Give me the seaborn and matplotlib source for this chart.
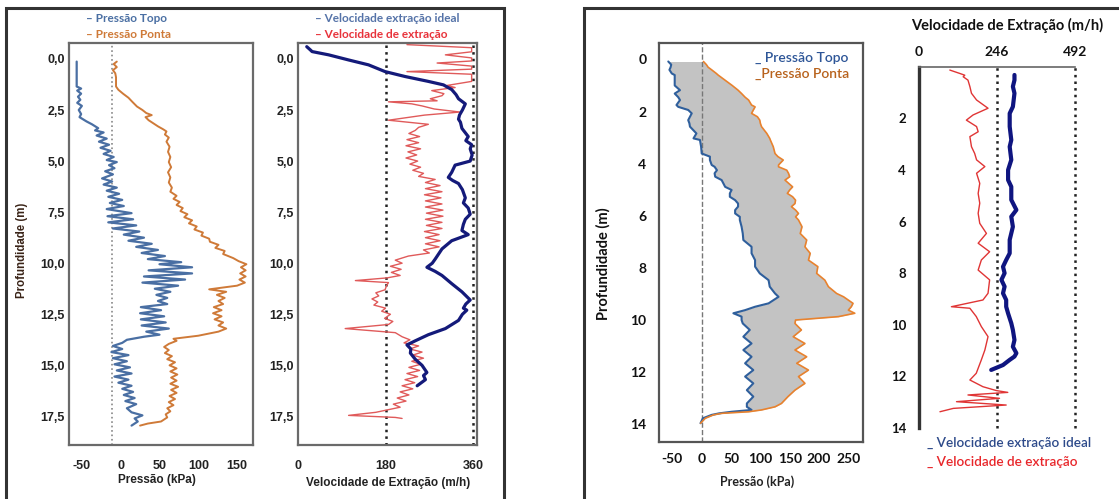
import numpy as np
import pandas as pd
import matplotlib
matplotlib.use("Agg")
import matplotlib.pyplot as plt
import seaborn as sns
from matplotlib.patches import Rectangle

# ---------------- data : left figure (pressure) ----------------
topo1_depth = [0.13, 1.35, 1.45, 1.55, 1.7, 1.85, 2.0, 2.15, 2.3, 2.5,
               2.7, 2.85, 3.06, 3.2, 3.39, 3.5, 3.6, 3.75, 3.9, 4.05,
               4.2, 4.35, 4.5, 4.65, 4.8, 4.95, 5.05, 5.2, 5.35, 5.5,
               5.65, 5.85, 6.0, 6.15, 6.3, 6.45, 6.6, 6.75, 6.9, 7.05,
               7.2, 7.35, 7.55, 7.7, 7.85, 8.0, 8.15, 8.3, 8.45, 8.6,
               8.75, 8.9, 9.05, 9.2, 9.35, 9.5, 9.65, 9.8, 9.95, 10.05,
               10.2, 10.35, 10.5, 10.65, 10.8, 10.95, 11.1, 11.25, 11.4, 11.55,
               11.7, 11.85, 12.0, 12.15, 12.3, 12.45, 12.6, 12.75, 12.9, 13.05,
               13.2, 13.35, 13.5, 13.6, 13.75, 13.9, 14.05, 14.2, 14.35, 14.5,
               14.65, 14.8, 14.95, 15.1, 15.25, 15.4, 15.55, 15.7, 15.85, 16.0,
               16.15, 16.3, 16.45, 16.6, 16.75, 16.9, 17.1, 17.3, 17.45, 17.6,
               17.75, 17.95]
topo1_kpa = [-56.7, -56.7, -51, -56, -51, -55, -52, -56, -50, -54,
             -51, -53, -44, -37, -29, -33, -22, -31, -18, -28,
             -15, -26, -13, -22, -9, -18, -5, -15, -8, -20,
             -10, -24, -11, -22, -5, -18, -2, -16, 2, -14,
             4, -18, 14, -17, 16, -16, 20, -10, 24, 4,
             30, 10, 40, 20, 48, 27, 57, 35, 78, 50,
             92, 36, 92, 30, 83, 28, 74, 44, 64, 46,
             60, 48, 60, 26, 52, 25, 56, 26, 58, 27,
             62, 33, 50, 30, 8, 2, -10, 2, -12, 10,
             -10, 8, -8, 12, -5, 14, -8, 10, -3, 14,
             2, 16, 4, 18, 6, 20, 8, 14, 28, 18,
             22, 14]

ponta1_depth = [0.13, 0.25, 0.4, 0.55, 0.7, 0.9, 1.35, 1.51, 1.7, 1.9,
                2.1, 2.33, 2.5, 2.65, 2.75, 2.85, 3.0, 3.15, 3.3, 3.45,
                3.55, 3.7, 3.85, 4.05, 4.3, 4.55, 4.8, 5.05, 5.3, 5.55,
                5.8, 6.05, 6.3, 6.5, 6.7, 6.85, 7.0, 7.15, 7.3, 7.45,
                7.6, 7.75, 7.9, 8.05, 8.2, 8.35, 8.5, 8.65, 8.8, 8.95,
                9.1, 9.25, 9.4, 9.55, 9.75, 9.9, 10.05, 10.2, 10.35, 10.5,
                10.65, 10.8, 10.95, 11.1, 11.28, 11.4, 11.55, 11.7, 11.85, 12.0,
                12.15, 12.3, 12.45, 12.6, 12.75, 12.9, 13.05, 13.2, 13.35, 13.55,
                13.7, 13.8, 13.95, 14.1, 14.25, 14.4, 14.55, 14.7, 14.85, 15.0,
                15.15, 15.3, 15.45, 15.6, 15.75, 15.9, 16.05, 16.2, 16.35, 16.5,
                16.65, 16.8, 16.95, 17.1, 17.25, 17.4, 17.55, 17.75, 17.85, 17.95]
ponta1_kpa = [-5, -9, -5, -10, -7, -6, -6, -3, 3, 10,
              15, 21, 28, 33, 40, 32, 36, 42, 48, 55,
              59, 57, 62, 59, 63, 61, 64, 62, 65, 61,
              64, 62, 66, 64, 72, 68, 76, 72, 80, 77,
              86, 82, 92, 88, 98, 95, 106, 104, 114, 115,
              126, 122, 134, 132, 145, 152, 162, 155, 161, 154,
              161, 153, 160, 150, 114, 136, 124, 134, 126, 132,
              120, 130, 119, 130, 121, 132, 126, 136, 126, 100,
              68, 72, 62, 56, 62, 57, 66, 60, 70, 63,
              72, 64, 73, 65, 72, 64, 74, 65, 72, 63,
              70, 62, 68, 60, 64, 58, 60, 52, 35, 25]

ideal1_depth = [-0.6, -0.45, -0.36, -0.2, 0.05, 0.29, 0.62, 0.86, 1.1, 1.27,
                1.5, 1.75, 1.95, 2.2, 2.5, 2.75, 2.95, 3.1, 3.4, 3.8,
                4.0, 4.2, 4.4, 4.7, 5.0, 5.2, 5.55, 5.8, 5.95, 6.1,
                6.4, 6.8, 7.05, 7.3, 7.6, 7.85, 8.1, 8.4, 8.6, 8.9,
                9.3, 9.8, 10.0, 10.2, 10.4, 10.6, 11.0, 11.4, 11.8, 12.0,
                12.2, 12.3, 12.5, 12.8, 13.2, 13.5, 13.8, 14.0, 14.2, 14.4,
                14.7, 15.0, 15.35, 15.5, 15.7, 16.0]
ideal1_vel = [18, 25, 29, 63, 104, 145, 179, 220, 268, 299,
              316, 325, 330, 344, 338, 332, 330, 334, 337, 350,
              345, 357, 354, 358, 354, 323, 316, 309, 318, 330,
              338, 344, 340, 350, 354, 344, 340, 337, 350, 316,
              296, 282, 276, 265, 282, 296, 316, 337, 354, 345,
              340, 347, 338, 330, 303, 268, 241, 224, 232, 231,
              241, 255, 265, 258, 262, 245]

real1_depth = [-0.7, -0.55, -0.35, -0.2, -0.05, 0.1, 0.2, 0.35, 0.5, 0.62,
               0.75, 0.9, 1.1, 1.3, 1.4, 1.55, 1.7, 1.8, 1.95, 2.05,
               2.1, 2.2, 2.3, 2.45, 2.6, 2.75, 3.0, 3.2, 3.35, 3.5,
               3.65, 3.8, 3.95, 4.1, 4.25, 4.4, 4.55, 4.7, 4.85, 5.0,
               5.15, 5.3, 5.45, 5.6, 5.75, 5.9, 6.05, 6.2, 6.35, 6.5,
               6.65, 6.8, 6.95, 7.1, 7.25, 7.4, 7.55, 7.7, 7.85, 8.0,
               8.15, 8.3, 8.45, 8.6, 8.75, 8.9, 9.05, 9.2, 9.35, 9.5,
               9.65, 9.85, 10.0, 10.15, 10.3, 10.45, 10.6, 10.72, 10.85, 10.95,
               11.1, 11.3, 11.45, 11.6, 11.75, 11.9, 12.05, 12.2, 12.35, 12.5,
               12.7, 12.85, 13.0, 13.2, 13.4, 13.6, 13.75, 13.9, 14.05, 14.2,
               14.35, 14.5, 14.65, 14.8, 14.95, 15.1, 15.25, 15.4, 15.55, 15.7,
               15.85, 16.0, 16.15, 16.3, 16.45, 16.6, 16.75, 16.9, 17.05, 17.2,
               17.3, 17.45, 17.55, 17.6]
real1_vel = [224, 357, 357, 303, 357, 357, 286, 357, 357, 224,
             357, 357, 357, 306, 323, 275, 300, 296, 272, 286,
             186, 234, 255, 280, 333, 260, 186, 268, 248, 241,
             228, 250, 224, 248, 222, 252, 226, 244, 222, 246,
             230, 252, 236, 258, 248, 282, 262, 292, 262, 296,
             260, 294, 262, 296, 262, 298, 264, 298, 262, 296,
             264, 296, 260, 290, 262, 292, 262, 290, 258, 270,
             227, 200, 214, 190, 212, 192, 210, 183, 118, 186,
             182, 179, 160, 166, 152, 164, 156, 180, 172, 190,
             178, 195, 186, 97, 200, 214, 230, 218, 248, 230,
             255, 236, 258, 234, 252, 228, 250, 224, 246, 220,
             240, 214, 236, 210, 228, 204, 222, 196, 210, 180,
             160, 104, 200, 214]

# ---------------- data : right figure ----------------
depth3 = [0.08, 0.2, 0.3, 0.4, 0.54, 0.6, 0.8, 1.0, 1.18, 1.31,
          1.45, 1.56, 1.75, 1.82, 1.94, 2.07, 2.2, 2.33, 2.45, 2.58,
          2.84, 3.03, 3.09, 3.35, 3.61, 3.73, 3.86, 4.05, 4.12, 4.25,
          4.37, 4.5, 4.63, 4.89, 5.01, 5.14, 5.27, 5.4, 5.53, 5.65,
          5.78, 5.91, 6.04, 6.16, 6.42, 6.68, 6.93, 7.19, 7.44, 7.7,
          7.95, 8.21, 8.47, 8.72, 8.98, 9.11, 9.36, 9.49, 9.62, 9.74,
          9.87, 10.0, 10.13, 10.38, 10.64, 10.9, 11.15, 11.41, 11.66, 11.92,
          12.17, 12.43, 12.69, 12.94, 13.2, 13.33, 13.45, 13.52, 13.58, 13.64,
          13.77, 13.96]
topo3_kpa = [-57, -52, -53, -55, -51, -46, -46, -46, -37, -46,
             -40, -37, -43, -40, -23, -17, -20, -23, -21, -20,
             -9, -14, -3, -1, 0, 14, 14, 17, 22, 26,
             22, 23, 34, 40, 51, 48, 48, 57, 62, 62,
             57, 57, 65, 65, 68, 70, 71, 85, 85, 91,
             91, 99, 114, 116, 125, 131, 114, 91, 74, 54,
             68, 68, 70, 82, 71, 85, 71, 85, 74, 88,
             74, 88, 77, 88, 77, 77, 85, 51, 30, 17,
             2, -2]
ponta3_kpa = [3, 8, 11, 17, 25, 28, 40, 52, 62, 68,
              74, 80, 85, 91, 88, 85, 95, 99, 100, 102,
              111, 116, 117, 122, 125, 130, 139, 131, 131, 145,
              148, 150, 142, 155, 150, 146, 155, 160, 159, 153,
              160, 165, 160, 165, 171, 168, 179, 176, 185, 182,
              198, 196, 210, 216, 230, 242, 258, 255, 250, 261,
              233, 160, 159, 170, 156, 176, 159, 179, 162, 182,
              165, 176, 159, 147, 136, 125, 102, 80, 34, 20,
              6, -2]

ideal2_depth = [0.32, 0.52, 0.77, 1.03, 1.55, 1.81, 2.32, 2.84, 3.1, 3.61,
                4.0, 4.39, 4.65, 5.16, 5.55, 5.81, 6.2, 6.71, 7.23, 7.49,
                7.75, 8.0, 8.26, 8.52, 8.78, 9.04, 9.3, 9.56, 9.94, 10.2,
                10.59, 10.85, 11.1, 11.23, 11.36, 11.56, 11.75]
ideal2_vel = [301, 301, 296, 301, 296, 286, 286, 291, 286, 291,
              281, 281, 291, 291, 307, 291, 296, 286, 286, 275,
              265, 270, 260, 270, 265, 275, 275, 281, 291, 296,
              301, 296, 307, 301, 286, 265, 228]

real2_depth = [0.13, 0.26, 0.33, 0.39, 0.52, 0.77, 1.03, 1.29, 1.61, 1.87,
               2.07, 2.32, 2.52, 2.71, 3.1, 3.36, 3.61, 3.87, 4.13, 4.52,
               4.91, 5.29, 5.68, 6.07, 6.46, 6.84, 7.17, 7.49, 7.88, 8.26,
               8.78, 9.04, 9.3, 9.36, 9.68, 10.07, 10.46, 10.98, 11.36, 11.88,
               12.14, 12.4, 12.55, 12.62, 12.72, 12.85, 12.98, 13.11, 13.24, 13.37]
real2_vel = [98, 129, 145, 140, 155, 161, 166, 182, 218, 171,
             150, 182, 187, 161, 166, 176, 182, 208, 182, 192,
             187, 192, 187, 192, 213, 187, 223, 197, 187, 223,
             218, 202, 103, 161, 181, 197, 218, 208, 197, 181,
             161, 202, 244, 280, 155, 254, 119, 275, 109, 67]

# tick values / labels
p1_xticks = [-50, 0, 50, 100, 150]
p1_yticks = [0.0, 2.5, 5.0, 7.5, 10.0, 12.5, 15.0, 17.5]
p2_xticks = [0, 180, 360]
p3_xticks = [-50, 0, 50, 100, 150, 200, 250]
p3_yticks = [0, 2, 4, 6, 8, 10, 12, 14]
p4_xticks = [0, 246, 492]
p4_yticks = [2, 4, 6, 8, 10, 12, 14]

# ---------------- figure ----------------
sns.set_theme(style="white")
plt.rcParams["font.family"] = ["Liberation Sans", "DejaVu Sans"]

W, H = 1119, 499
fig = plt.figure(figsize=(W / 100, H / 100), dpi=100)
fig.patch.set_facecolor("white")


def add_ax(x0, y0, x1, y1):
    return fig.add_axes([x0 / W, 1 - y1 / H, (x1 - x0) / W, (y1 - y0) / H])


def ftext(px, py, s, **kw):
    fig.text(px / W, 1 - py / H, s, **kw)


def comma(v):
    return f"{v:.1f}".replace(".", ",")


# outer boxes
fig.add_artist(Rectangle((6 / W, 1 - 515 / H), 498 / W, 507 / H, transform=fig.transFigure,
                         fill=False, lw=2.2, ec="#333333"))
fig.add_artist(Rectangle((584 / W, 1 - 515 / H), 560 / W, 507 / H, transform=fig.transFigure,
                         fill=False, lw=2.2, ec="#333333"))

TOPO_C = "#4a6fa3"
PONTA_C = "#cf7a38"
NAVY = "#141a7a"
RED = "#e05a5a"

# ----- panel 1 -----
ax1 = add_ax(69, 43, 253, 445)
sns.lineplot(x=topo1_kpa, y=topo1_depth, orient="y", estimator=None, ax=ax1,
             color=TOPO_C, lw=1.6, legend=False)
sns.lineplot(x=ponta1_kpa, y=ponta1_depth, orient="y", estimator=None, ax=ax1,
             color=PONTA_C, lw=1.4, legend=False)
ax1.axvline(-11, color="#888888", ls=":", lw=1.2, zorder=0)
ax1.set_xlim(-66.6, 170.5)
ax1.set_ylim(18.9, -0.78)
ax1.set_xticks(p1_xticks, labels=[str(t) for t in p1_xticks], fontweight="bold", fontsize=9, color="#222")
ax1.set_yticks(p1_yticks, labels=[comma(t) for t in p1_yticks], fontweight="bold", fontsize=9, color="#222")
ax1.tick_params(axis="y", direction="in", length=3, pad=3, color="#666")
ax1.tick_params(axis="x", direction="in", length=0, pad=11)
ax1.set_xlabel("")
ax1.set_ylabel("")

# ----- panel 2 -----
ax2 = add_ax(298, 43, 477, 445)
sns.lineplot(x=real1_vel, y=real1_depth, orient="y", estimator=None, ax=ax2,
             color=RED, lw=1.0, legend=False)
sns.lineplot(x=ideal1_vel, y=ideal1_depth, orient="y", estimator=None, ax=ax2,
             color=NAVY, lw=2.3, legend=False)
for v in (180, 360):
    ax2.axvline(v, color="#222222", ls=":", lw=1.8, zorder=0)
ax2.set_xlim(0, 368)
ax2.set_ylim(18.9, -0.78)
ax2.set_xticks(p2_xticks, labels=[str(t) for t in p2_xticks], fontweight="bold", fontsize=9, color="#222")
ax2.set_yticks(p1_yticks, labels=[comma(t) for t in p1_yticks], fontweight="bold", fontsize=9, color="#222")
ax2.tick_params(axis="y", direction="in", length=3, pad=3, color="#666")
ax2.tick_params(axis="x", direction="in", length=0, pad=11)
ax2.set_xlabel("")
ax2.set_ylabel("")

for ax in (ax1, ax2):
    for s in ax.spines.values():
        s.set_visible(True)
        s.set_color("#6a6a6a")
        s.set_linewidth(1.6)

# texts left figure
ftext(86, 18, "– Pressão Topo", color=TOPO_C, fontsize=8.5, fontweight="bold", family="Lato", ha="left", va="center")
ftext(86, 34, "– Pressão Ponta", color=PONTA_C, fontsize=8.5, fontweight="bold", family="Lato", ha="left", va="center")
ftext(315, 18, "– Velocidade extração ideal", color="#5573a8", fontsize=8.5, fontweight="bold", family="Lato", ha="left", va="center")
ftext(315, 34, "– Velocidade de extração", color="#e8323a", fontsize=8.5, fontweight="bold", family="Lato", ha="left", va="center")
ftext(22, 250, "Profundidade (m)", rotation=90, color="#3a2418", fontsize=8.3, fontweight="bold", ha="center", va="center")
ftext(157, 480, "Pressão (kPa)", color="#222", fontsize=8.5, fontweight="bold", ha="center", va="center")
ftext(388, 483, "Velocidade de Extração (m/h)", color="#222", fontsize=8.5, fontweight="bold", ha="center", va="center")

# ----- panel 3 -----
ax3 = add_ax(659, 43, 863, 442)
ax3.fill_betweenx(depth3, topo3_kpa, ponta3_kpa, color="#c3c3c3", lw=0, zorder=1)
sns.lineplot(x=topo3_kpa, y=depth3, orient="y", estimator=None, ax=ax3,
             color="#2f5f9c", lw=1.5, legend=False, zorder=3)
sns.lineplot(x=ponta3_kpa, y=depth3, orient="y", estimator=None, ax=ax3,
             color="#e8822e", lw=1.2, legend=False, zorder=3)
ax3.axvline(0, color="#777777", ls="--", lw=1.0, zorder=2)
ax3.set_xlim(-72.8, 275)
ax3.set_ylim(14.68, -0.63)
ax3.set_xticks(p3_xticks, labels=[str(t) for t in p3_xticks], fontweight="bold", fontsize=10, family="Lato", color="#111")
ax3.set_yticks(p3_yticks, labels=[str(t) for t in p3_yticks], fontweight="bold", fontsize=10, family="Lato", color="#111")
ax3.tick_params(axis="y", direction="out", length=3, pad=6, color="#555")
ax3.tick_params(axis="x", length=0, pad=8)
ax3.set_xlabel("")
ax3.set_ylabel("")
for s in ax3.spines.values():
    s.set_visible(True)
    s.set_color("#555555")
    s.set_linewidth(1.6)

ftext(755, 58, "_ Pressão Topo", color="#2d5597", fontsize=10, family="Lato", fontweight="semibold", ha="left", va="center")
ftext(755, 74, "_Pressão Ponta", color="#b8621c", fontsize=10, family="Lato", fontweight="semibold", ha="left", va="center")
ftext(603, 264, "Profundidade (m)", rotation=90, color="#111", fontsize=10.5, fontweight="bold", family="Lato", ha="center", va="center")
ftext(757, 482, "Pressão (kPa)", color="#222", fontsize=9, fontweight="bold", family="Lato", ha="center", va="center")

# ----- panel 4 -----
ax4 = add_ax(918.6, 66.7, 1075.3, 428)
sns.lineplot(x=real2_vel, y=real2_depth, orient="y", estimator=None, ax=ax4,
             color="#e03535", lw=1.0, legend=False)
sns.lineplot(x=ideal2_vel, y=ideal2_depth, orient="y", estimator=None, ax=ax4,
             color="#0f1580", lw=3.0, legend=False)
for v in (246, 492):
    ax4.axvline(v, color="#222222", ls=":", lw=1.8, zorder=0, clip_on=False)
ax4.set_xlim(0, 492)
ax4.set_ylim(14, 0)
ax4.xaxis.tick_top()
ax4.set_xticks(p4_xticks, labels=[str(t) for t in p4_xticks], fontweight="bold", fontsize=10, family="Lato", color="#111")
ax4.set_yticks(p4_yticks, labels=[str(t) for t in p4_yticks], fontweight="bold", fontsize=9.5, family="Lato", color="#111")
ax4.tick_params(axis="x", length=0, pad=6)
ax4.tick_params(axis="y", direction="out", length=2, pad=7, color="#555")
ax4.set_xlabel("")
ax4.set_ylabel("")
ax4.spines["right"].set_visible(False)
ax4.spines["bottom"].set_visible(False)
ax4.spines["left"].set_visible(True)
ax4.spines["left"].set_color("#333333")
ax4.spines["left"].set_linewidth(2.4)
ax4.spines["top"].set_visible(True)
ax4.spines["top"].set_color("#666666")
ax4.spines["top"].set_linewidth(1.2)

ftext(1007, 25, "Velocidade de Extração (m/h)", color="#111", fontsize=10.5, fontweight="bold", family="Lato", ha="center", va="center")
ftext(927, 443, "_ Velocidade extração ideal", color="#2d4a8a", fontsize=9.8, family="Lato", fontweight="semibold", ha="left", va="center")
ftext(927, 462, "_ Velocidade de extração", color="#e8262a", fontsize=9.8, family="Lato", fontweight="semibold", ha="left", va="center")

fig.savefig("out.png", dpi=100)
